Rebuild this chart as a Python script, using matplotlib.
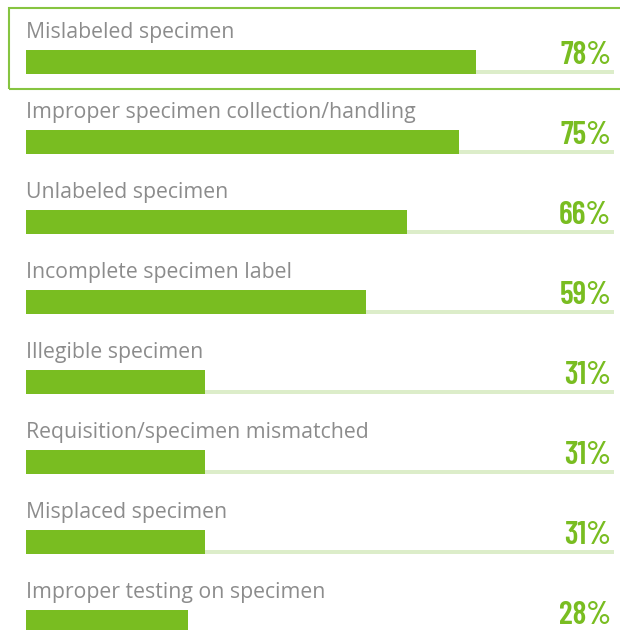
import matplotlib
matplotlib.use("Agg")
import matplotlib.pyplot as plt
from matplotlib.patches import Rectangle
from matplotlib import font_manager

categories = ["Mislabeled specimen",
              "Improper specimen collection/handling",
              "Unlabeled specimen",
              "Incomplete specimen label",
              "Illegible specimen",
              "Requisition/specimen mismatched",
              "Misplaced specimen",
              "Improper testing on specimen"]
values = [78, 75, 66, 59, 31, 31, 31, 28]

green = "#79bd21"
track = "#dcedc9"
grey = "#8c8c8c"

names = {f.name for f in font_manager.fontManager.ttflist}
pct_font = "DejaVu Sans"
for cand in ["Barlow Condensed", "Asap Condensed", "Oswald"]:
    if cand in names:
        pct_font = cand
        break

W, H = 620, 630
fig = plt.figure(figsize=(6.2, 6.3), dpi=100)
x0, x100 = 26, 603
ax = fig.add_axes([x0 / W, 0, (x100 - x0) / W, 1])
ax.set_xlim(0, 100)
ax.set_ylim(H, 0)  # y measured in pixels from top
ax.axis("off")

row = 80
for i, (cat, v) in enumerate(zip(categories, values)):
    top = 50 + row * i
    # light track under the bar
    ax.barh(top + 22, 101.9, height=4, left=0, color=track, align="center",
            clip_on=False)
    ax.barh(top + 12, v, height=24, left=0, color=green, align="center",
            clip_on=False)
    ax.text(0, top - 12, cat, fontsize=15.3, color=grey, family="Open Sans",
            va="baseline", ha="left")
    ax.text(101.4, top + 14.5, f"{v}%", fontsize=23, color=green, family=pct_font,
            fontweight=600, va="baseline", ha="right", clip_on=False)

fig.patches.append(Rectangle((9 / W, 1 - 89 / H), 620 / W, 81 / H, fill=False,
                             edgecolor="#86c440", linewidth=1.5,
                             transform=fig.transFigure, figure=fig))

fig.savefig("out.png", dpi=100)
